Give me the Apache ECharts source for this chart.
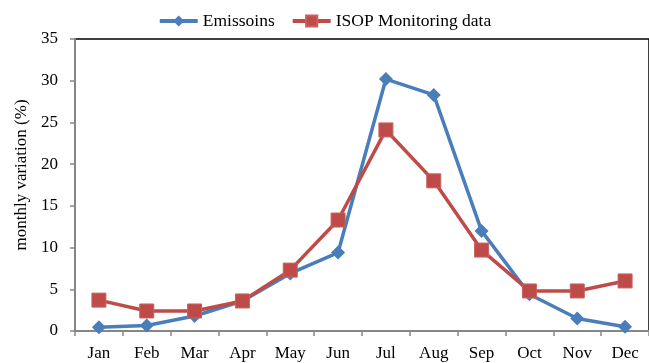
<!DOCTYPE html>
<html>
<head>
<meta charset="utf-8">
<script src="https://cdn.jsdelivr.net/npm/echarts@6/dist/echarts.min.js"></script>
<style>
html,body{margin:0;padding:0;background:#fff;}
#chart{width:649px;height:363px;}
</style>
</head>
<body>
<div id="chart"></div>
<script>
var months = ['Jan','Feb','Mar','Apr','May','Jun','Jul','Aug','Sep','Oct','Nov','Dec'];
var emissions = [0.45, 0.65, 1.8, 3.6, 6.9, 9.4, 30.2, 28.3, 12.0, 4.4, 1.5, 0.5];
var isop = [3.7, 2.4, 2.4, 3.6, 7.3, 13.3, 24.1, 18.0, 9.7, 4.8, 4.8, 6.0];
var yTicks = [0, 5, 10, 15, 20, 25, 30, 35];

var font = '"Liberation Serif", "Times New Roman", serif';
var chart = echarts.init(document.getElementById('chart'));
chart.setOption({
  animation: false,
  textStyle: {fontFamily: font},
  legend: {
    top: 7,
    left: 'center',
    itemWidth: 38,
    itemHeight: 14,
    itemGap: 16,
    lineStyle: {width: 4},
    textStyle: {fontFamily: font, fontSize: 17.5, color: '#000'},
    data: ['Emissoins', 'ISOP Monitoring data']
  },
  grid: {
    left: 75,
    top: 39,
    width: 577,
    height: 292,
    show: true,
    borderColor: '#000',
    borderWidth: 1.5,
    backgroundColor: 'transparent'
  },
  xAxis: {
    type: 'category',
    data: months,
    boundaryGap: true,
    axisLine: {lineStyle: {color: '#868686', width: 2}},
    axisTick: {show: true, inside: false, length: 5, alignWithLabel: false, lineStyle: {color: '#868686', width: 1.5}},
    axisLabel: {color: '#000', fontSize: 17, fontFamily: font, margin: 14, interval: 0},
    splitLine: {show: false}
  },
  yAxis: {
    type: 'value',
    min: yTicks[0],
    max: yTicks[yTicks.length - 1],
    interval: 5,
    name: 'monthly variation (%)',
    nameLocation: 'middle',
    nameGap: 45,
    nameRotate: 90,
    nameTextStyle: {color: '#000', fontSize: 17, fontFamily: font, padding: [0, 0, 0, 20]},
    axisLine: {show: true, lineStyle: {color: '#868686', width: 2}},
    axisTick: {show: true, inside: false, length: 5, lineStyle: {color: '#868686', width: 1.5}},
    axisLabel: {color: '#000', fontSize: 17, fontFamily: font, margin: 17},
    splitLine: {show: false}
  },
  series: [
    {
      name: 'Emissoins',
      type: 'line',
      data: emissions,
      symbol: 'diamond',
      symbolSize: 14,
      lineStyle: {color: '#4A7EBB', width: 3.5},
      itemStyle: {color: '#4A7EBB'},
      z: 3
    },
    {
      name: 'ISOP Monitoring data',
      type: 'line',
      data: isop,
      symbol: 'rect',
      symbolSize: 14,
      lineStyle: {color: '#BE4B48', width: 3.5},
      itemStyle: {color: '#BE4B48', borderColor: '#C9605D', borderWidth: 1},
      z: 4
    }
  ]
});
</script>
</body>
</html>
